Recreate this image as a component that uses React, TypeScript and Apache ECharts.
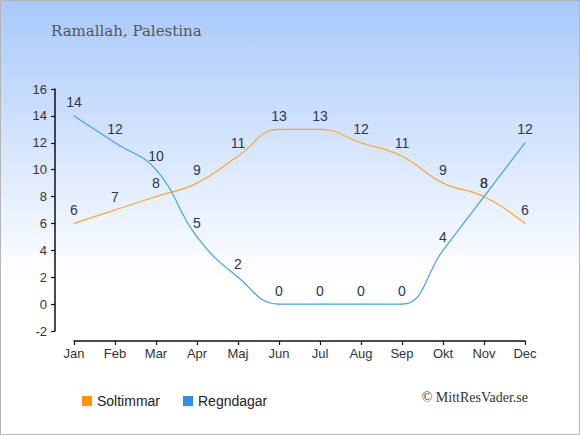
import React, { useEffect, useRef } from "react";
import * as echarts from "echarts";

const months = ["Jan", "Feb", "Mar", "Apr", "Maj", "Jun", "Jul", "Aug", "Sep", "Okt", "Nov", "Dec"];
const soltimmar = [6, 7, 8, 9, 11, 13, 13, 12, 11, 9, 8, 6];
const regndagar = [14, 12, 10, 5, 2, 0, 0, 0, 0, 4, 8, 12];
const yMin = -2;
const yMax = 16;
const titleText = "Ramallah, Palestina";
const copyrightText = "© MittResVader.se";

export default function App() {
  const ref = useRef<HTMLDivElement>(null);
  useEffect(() => {
    document.body.style.margin = "0";
    const chart = echarts.init(ref.current!, null, { renderer: "svg" });
    const labelStyle = {
      show: true,
      position: "top" as const,
      distance: 6,
      fontFamily: "Liberation Sans, Arial, sans-serif",
      fontSize: 14,
      color: "#2b3652",
    };
    chart.setOption({
      animation: false,
      backgroundColor: new echarts.graphic.LinearGradient(0, 0, 0, 1, [
        { offset: 0, color: "#a8c9fb" },
        { offset: 0.64, color: "#ffffff" },
        { offset: 1, color: "#ffffff" },
      ]),
      grid: { left: 74, right: 55, top: 89, bottom: 104 },
      graphic: [
        {
          id: "border",
          type: "rect",
          shape: { x: 0.5, y: 0.5, width: 579, height: 434 },
          style: { fill: "none", stroke: "#b5b5b5", lineWidth: 1 },
          silent: true,
        },
        {
          id: "title",
          type: "text",
          left: 51,
          top: 23,
          style: {
            text: titleText,
            fontFamily: "DejaVu Serif, serif",
            fontSize: 15,
            fill: "#555555",
          },
        },
        {
          id: "copy",
          type: "text",
          right: 52,
          top: 390,
          style: {
            text: copyrightText,
            fontFamily: "Liberation Serif, serif",
            fontSize: 14,
            fill: "#333333",
          },
        },
      ],
      legend: {
        left: 77,
        top: 389,
        itemWidth: 10,
        itemHeight: 10,
        itemGap: 23,
        icon: "rect",
        textStyle: {
          fontFamily: "Liberation Sans, Arial, sans-serif",
          fontSize: 14,
          color: "#222222",
        },
        data: [
          { name: "Soltimmar", itemStyle: { color: "#ff9900" } },
          { name: "Regndagar", itemStyle: { color: "#2f8fe6" } },
        ],
      },
      xAxis: {
        type: "category",
        data: months,
        boundaryGap: false,
        offset: 10,
        axisLine: { show: true, onZero: false, lineStyle: { color: "#111111", width: 1.5 } },
        axisTick: { show: true, length: 4, lineStyle: { color: "#111111", width: 1.2 } },
        axisLabel: {
          margin: 6,
          fontFamily: "Liberation Sans, Arial, sans-serif",
          fontSize: 13,
          color: "#333333",
        },
        splitLine: { show: false },
      },
      yAxis: {
        type: "value",
        min: yMin,
        max: yMax,
        interval: 2,
        offset: 19,
        axisLine: { show: true, onZero: false, lineStyle: { color: "#111111", width: 1.5 } },
        axisTick: { show: true, length: 4, lineStyle: { color: "#111111", width: 1.2 } },
        axisLabel: {
          margin: 8,
          fontFamily: "Liberation Sans, Arial, sans-serif",
          fontSize: 13,
          color: "#333333",
        },
        splitLine: { show: false },
      },
      series: [
        {
          name: "Soltimmar",
          type: "line",
          data: soltimmar,
          smooth: 0.45,
          symbol: "circle",
          symbolSize: 1,
          itemStyle: { color: "#f9a73a" },
          lineStyle: { color: "#f9a73a", width: 1.2 },
          label: labelStyle,
        },
        {
          name: "Regndagar",
          type: "line",
          data: regndagar,
          smooth: 0.45,
          symbol: "circle",
          symbolSize: 1,
          itemStyle: { color: "#4a9fe8" },
          lineStyle: { color: "#4a9fe8", width: 1.2 },
          label: labelStyle,
        },
      ],
    });
    return () => chart.dispose();
  }, []);
  return <div ref={ref} style={{ width: 580, height: 435 }} />;
}
